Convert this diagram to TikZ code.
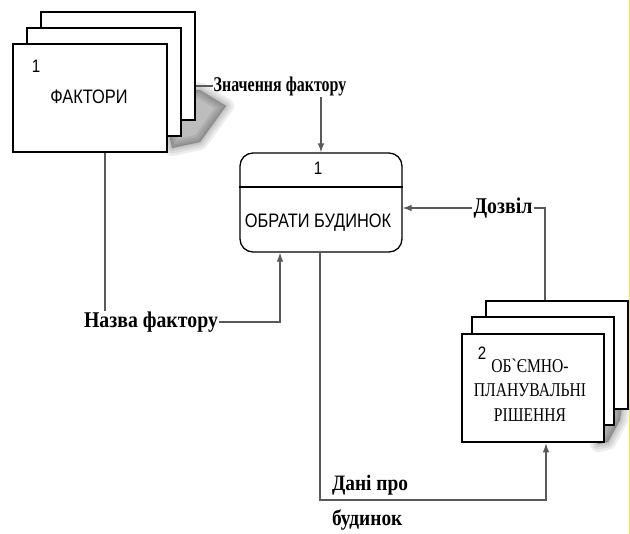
\documentclass[tikz,border=0pt]{standalone}
\usepackage{fontspec}
\setmainfont{Liberation Serif}
\newfontfamily\labfont[FakeStretch=0.88]{Liberation Serif}
\newfontfamily\narrowlab[FakeStretch=0.76]{Liberation Serif}
\newfontfamily\boxfont[FakeStretch=0.84]{Liberation Sans}
\newfontfamily\serfont[FakeStretch=0.8]{Liberation Serif}
\usetikzlibrary{arrows.meta}
\begin{document}
\begin{tikzpicture}[x=1pt,y=-1pt,
  stackbox/.style={draw=black,line width=2.6pt,fill=white,minimum width=154pt,minimum height=108pt,inner sep=0pt},
  rstackbox/.style={stackbox,minimum width=142pt,minimum height=108pt},
  procbox/.style={draw=black,line width=1.3pt,rounded corners=13pt,fill=white,minimum width=162pt,minimum height=99pt,inner sep=0pt},
  flow/.style={draw=black!65,line width=1.1pt},
  arr/.style={flow,-{Latex[length=9pt,width=6.5pt]}},
  lab/.style={font=\labfont\bfseries\fontsize{22.5}{26}\selectfont,inner sep=1pt},
  smalllab/.style={font=\narrowlab\bfseries\fontsize{21}{24}\selectfont,inner sep=1pt},
  boxtxt/.style={font=\boxfont\fontsize{19.5}{22}\selectfont,inner sep=0pt},
  numtxt/.style={font=\boxfont\fontsize{18}{20}\selectfont,inner sep=0pt},
  sertxt/.style={font=\serfont\fontsize{19.5}{24.5}\selectfont,inner sep=0pt,align=center},
  shadowfill/.style={fill=black,draw=black,opacity=0.07,line join=round}
]
\useasboundingbox (0,0) rectangle (630,534);
\fill[white] (0,0) rectangle (630,534);
\draw[yellow,line width=1pt] (629.5,0) -- (629.5,534);

% soft shadows
\foreach \w in {16,11,6,2}{
  \path[shadowfill,line width=\w pt] (160,92) -- (200,90) -- (226,106) -- (200,142) -- (172,148) -- cycle;
  \path[shadowfill,line width=\w pt] (598,405) -- (622,406) -- (620,420) -- (608,442) -- (598,444) -- cycle;
}

% left stack
\node[stackbox] (f3) at (118,66) {};
\node[stackbox] (f2) at (104,82) {};
\node[stackbox] (f1) at (90,98) {};
\node[numtxt,anchor=center] (f1num) at (36,66) {1};
\node[boxtxt] (f1txt) at (89,97) {ФАКТОРИ};

% process
\node[procbox] (p) at (321,202.5) {};
\draw[line width=1.1pt] (p.west |- 0,187) -- (p.east |- 0,187);
\node[numtxt] (pnum) at (318,168) {1};
\node[boxtxt] (ptxt) at (318,223) {ОБРАТИ БУДИНОК};

% right stack
\node[rstackbox] (r3) at (557,355) {};
\node[rstackbox] (r2) at (543,371) {};
\node[rstackbox] (r1) at (533,388) {};
\node[numtxt] (r1num) at (482,353) {2};
\node[sertxt] (r1txt) at (530,390) {ОБ`ЄМНО-\\ПЛАНУВАЛЬНІ\\РІШЕННЯ};

% labels
\node[smalllab] (zlab) at (280,86) {Значення фактору};
\node[lab] (nlab) at (151,322) {Назва фактору};
\node[lab] (dlab) at (503,208) {Дозвіл};
\node[lab,align=left,font=\labfont\bfseries\fontsize{22}{35}\selectfont] (dnlab) at (370,503) {Дані про\\будинок};

% connectors
\draw[flow] (f3.east |- zlab.west) -- (zlab.west);
\draw[arr] (zlab.south -| p.north) -- (p.north);
\draw[flow] ([xshift=15pt]f1.south) -- ([xshift=15pt]f1.south |- nlab.north);
\draw[arr] (nlab.east) -| ([xshift=-41pt]p.south);
\draw[arr] (dlab.west) -- (p.east |- dlab.west);
\draw[flow] (dlab.east) -| ([xshift=-12pt]r3.north);
\coordinate (dturn) at ([xshift=-1pt]p.south |- 0,500);
\draw[arr] ([xshift=-1pt]p.south) -- (dturn) -| ([xshift=13pt]r1.south);
\end{tikzpicture}
\end{document}
